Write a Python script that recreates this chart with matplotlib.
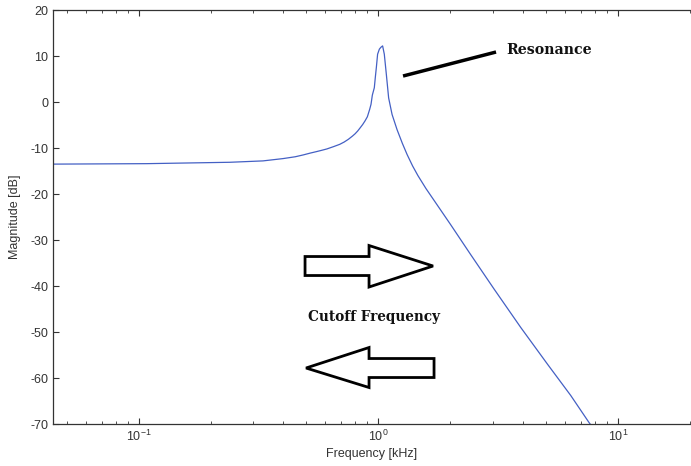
import matplotlib.pyplot as plt
from matplotlib.patches import Polygon

# magnitude response of the resonant low-pass (frequency in kHz, magnitude in dB)
freq_khz = [0.044, 0.108, 0.24, 0.33, 0.40, 0.45, 0.486, 0.52, 0.55, 0.58, 0.61,
            0.65, 0.69, 0.72, 0.75, 0.78, 0.80, 0.82, 0.84, 0.86, 0.88, 0.90,
            0.92, 0.932, 0.944, 0.962, 0.972, 0.981, 0.993, 1.01, 1.025, 1.042,
            1.059, 1.080, 1.104, 1.141, 1.197, 1.26, 1.318, 1.39, 1.463, 1.58,
            1.704, 2.0, 2.424, 3.036, 3.929, 5.083, 6.355, 7.58, 8.0]
mag_db = [-13.5, -13.4, -13.1, -12.8, -12.3, -11.9, -11.5, -11.1, -10.8, -10.5, -10.2,
          -9.7, -9.2, -8.7, -8.1, -7.4, -6.9, -6.3, -5.6, -4.9, -4.1, -3.2,
          -1.6, -0.5, 1.5, 3.1, 5.5, 7.5, 10.4, 11.5, 11.9, 12.2,
          10.4, 6.0, 0.9, -2.7, -6.0, -9.0, -11.4, -13.9, -16.0, -18.8,
          -21.3, -26.6, -33.1, -40.6, -49.0, -57.0, -63.8, -69.7, -71.3]

x_range = [0.044, 20]
y_range = [-70, 20]
y_ticks = [-70, -60, -50, -40, -30, -20, -10, 0, 10, 20]

plt.rcParams['font.family'] = ['Liberation Sans', 'DejaVu Sans']
plt.rcParams['axes.unicode_minus'] = False

fig = plt.figure(figsize=(6.91, 4.66), dpi=100)
ax = fig.add_axes([0.0772, 0.0901, 0.9214, 0.8884])

ax.semilogx(freq_khz, mag_db, color='#4460c4', linewidth=0.9)
ax.set_xlim(x_range)
ax.set_ylim(y_range)
ax.set_yticks(y_ticks)

ax.tick_params(which='both', direction='in', top=True, right=False,
               labelsize=9, colors='#333333', labelcolor='#333333')
ax.tick_params(which='major', length=4)
ax.tick_params(which='minor', length=2.5)
ax.spines['right'].set_visible(False)
for s in ['left', 'top', 'bottom']:
    ax.spines[s].set_color('#333333')
    ax.spines[s].set_linewidth(0.9)

ax.set_xlabel('Frequency [kHz]', fontsize=9, color='#333333', labelpad=3)
ax.set_ylabel('Magnitude [dB]', fontsize=9, color='#333333', labelpad=7)


def px(x, y):
    # pixel position in the figure -> axes fraction
    return ((x - 53.3) / 636.7, (424 - y) / 414)


# resonance callout
(x0, y0), (x1, y1) = px(403, 76), px(496, 52)
ax.plot([x0, x1], [y0, y1], transform=ax.transAxes, color='black',
        linewidth=2.5, solid_capstyle='butt')
ax.text(*px(506, 50), 'Resonance', transform=ax.transAxes, ha='left', va='center',
        fontsize=10.2, fontweight='bold', family='DejaVu Serif', color='#111111')

# cutoff arrows
right_arrow = [(305, 256.5), (369, 256.5), (369, 245.5), (433, 266), (369, 287),
               (369, 275.5), (305, 275.5)]
left_arrow = [(306, 368), (369, 347.5), (369, 358.5), (434, 358.5), (434, 377.5),
              (369, 377.5), (369, 387.5)]
for pts in (right_arrow, left_arrow):
    ax.add_patch(Polygon([px(*p) for p in pts], closed=True, transform=ax.transAxes,
                         facecolor='white', edgecolor='black', linewidth=2))

ax.text(*px(374, 317), 'Cutoff Frequency', transform=ax.transAxes, ha='center',
        va='center', fontsize=9.8, fontweight='bold', family='DejaVu Serif',
        color='#111111')

fig.savefig('out.png', dpi=100)
plt.close(fig)
